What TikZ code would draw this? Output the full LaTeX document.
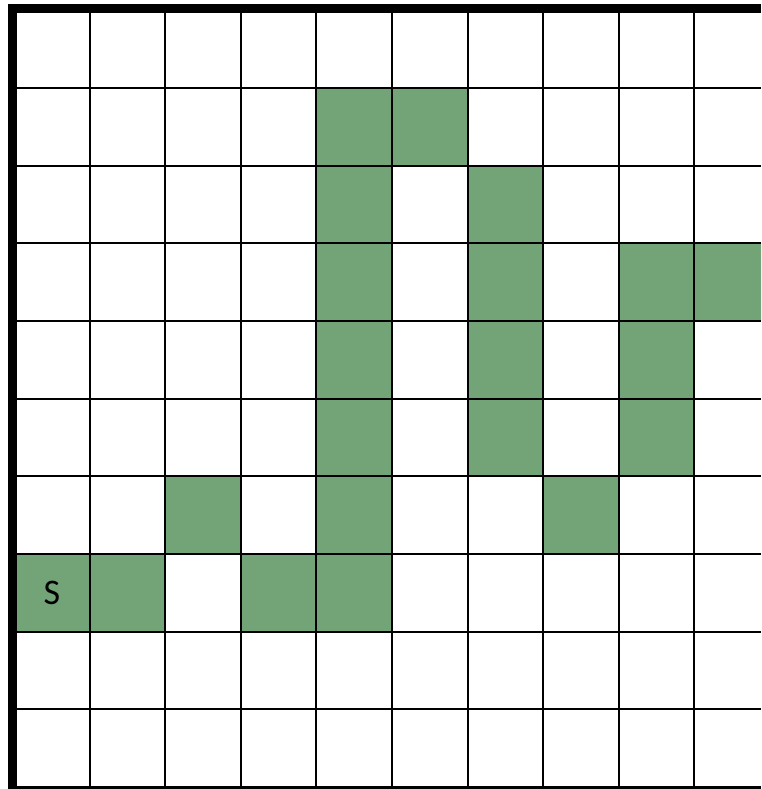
\documentclass[tikz,border=0pt]{standalone}
\usepackage{fontspec}
\setmainfont{Carlito}
\usepackage{tikz}
\usetikzlibrary{positioning}
\definecolor{cellgreen}{RGB}{114,164,120}
\tikzset{
  gridline/.style={draw=black, line width=2pt},
  borderline/.style={draw=black, line width=8.7pt},
  bottomline/.style={draw=black, line width=3pt},
  visited/.style={fill=cellgreen},
  cellmark/.style={font=\fontsize{36}{40}\selectfont, inner sep=0pt}
}
\begin{document}
\begin{tikzpicture}[x=1pt, y=-1pt]
  \useasboundingbox (0,0) rectangle (761,789);
  \clip (0,0) rectangle (761,789);
  \def\cw{75.6}
  \def\ch{77.65}

  % visited cells
  \foreach \c/\r in {4/1,5/1,4/2,6/2,4/3,6/3,8/3,9/3,4/4,6/4,8/4,
                     4/5,6/5,8/5,2/6,4/6,7/6,0/7,1/7,3/7,4/7}
    \fill[visited] ({14+\c*\cw},{10.5+\r*\ch}) rectangle ++(\cw,\ch);

  % grid
  \foreach \i in {1,...,9}
    \draw[gridline] ({14+\i*\cw},10.5) -- ({14+\i*\cw},787);
  \foreach \j in {1,...,9}
    \draw[gridline] (14,{10.5+\j*\ch}) -- (761,{10.5+\j*\ch});

  % outer border
  \draw[borderline] (12.35,4) -- (12.35,789);
  \draw[borderline] (8,8.35) -- (761,8.35);
  \draw[bottomline] (8,787.5) -- (761,787.5);

  \node[cellmark] (start) at ({14+0.5*\cw},{10.5+7.5*\ch}) {S};
\end{tikzpicture}
\end{document}
